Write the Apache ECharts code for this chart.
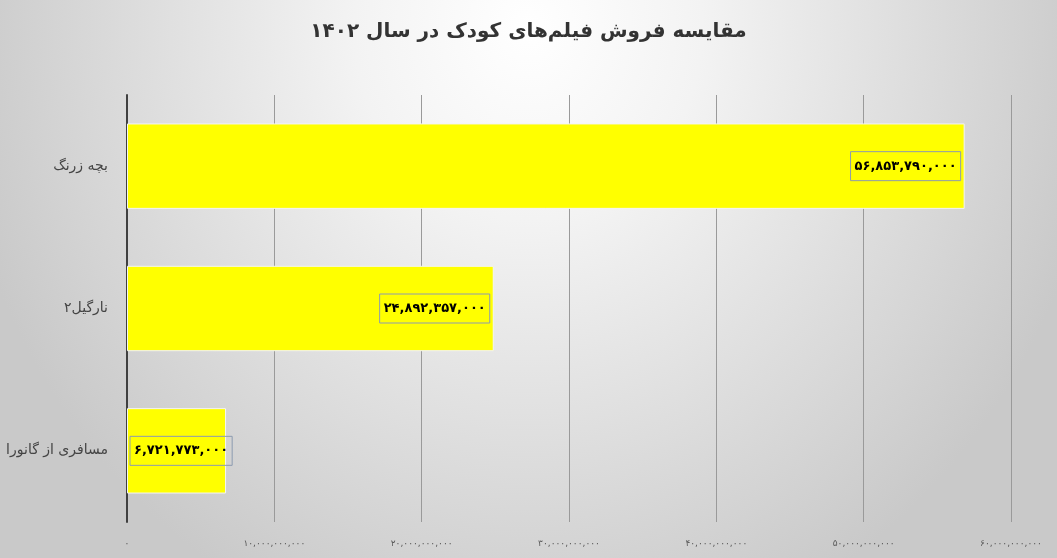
<!DOCTYPE html>
<html>
<head>
<meta charset="utf-8">
<script src="https://cdn.jsdelivr.net/npm/echarts@6/dist/echarts.min.js"></script>
<style>
html,body{margin:0;padding:0;}
#c{width:1057px;height:558px;
  background: radial-gradient(ellipse 580px 640px at 50% 5%, #ffffff 0%, #f3f3f3 30%, #e1e1e1 60%, #c9c9c9 100%);}
</style>
</head>
<body>
<div id="c"></div>
<script>
const titleText = 'مقایسه فروش فیلم‌های کودک در سال ۱۴۰۲';
const categories = ['بچه زرنگ', 'نارگیل۲', 'مسافری از گانورا'];
const sales = [56853790000, 24892357000, 6721773000];
const xTicks = [0, 10000000000, 20000000000, 30000000000, 40000000000, 50000000000, 60000000000];

const FONT = 'DejaVu Sans';
function fa(n) {
  const s = Math.round(n).toString().replace(/\B(?=(\d{3})+(?!\d))/g, ',');
  return s.replace(/\d/g, d => '۰۱۲۳۴۵۶۷۸۹'[+d]);
}

const chart = echarts.init(document.getElementById('c'));
chart.setOption({
  backgroundColor: 'transparent',
  title: {
    text: titleText,
    left: 'center',
    top: 17,
    textStyle: { fontFamily: FONT, fontSize: 20, fontWeight: 'bold', color: '#333333' }
  },
  grid: { left: 127, right: 46, top: 95, bottom: 36, containLabel: false, outerBoundsMode: 'none' },
  xAxis: {
    type: 'value',
    min: xTicks[0],
    max: xTicks[xTicks.length - 1],
    interval: xTicks[1] - xTicks[0],
    axisLine: { show: false },
    axisTick: { show: false },
    splitLine: { show: true, lineStyle: { color: '#9a9a9a', width: 1 } },
    axisLabel: { fontFamily: FONT, fontSize: 9, color: '#595959', margin: 17, formatter: v => fa(v) }
  },
  yAxis: {
    type: 'category',
    data: categories,
    inverse: true,
    axisLine: { show: true, lineStyle: { color: '#404040', width: 2 } },
    axisTick: { show: false },
    axisLabel: { fontFamily: FONT, fontSize: 14, color: '#444444', margin: 19 }
  },
  series: [{
    type: 'bar',
    barWidth: '60%',
    data: sales.map(v => ({
      value: v,
      label: v < 10000000000 ? { position: 'insideLeft', distance: 3 } : { position: 'insideRight', distance: 4 }
    })),
    itemStyle: { color: '#ffff00', borderColor: '#f4f4f4', borderWidth: 1 },
    label: {
      show: true,
      fontFamily: FONT,
      fontSize: 13,
      fontWeight: 'bold',
      color: '#000000',
      borderColor: '#8c9bb0',
      borderWidth: 1,
      padding: [8, 4],
      formatter: p => fa(p.value)
    }
  }],
  animation: false
});
</script>
</body>
</html>
